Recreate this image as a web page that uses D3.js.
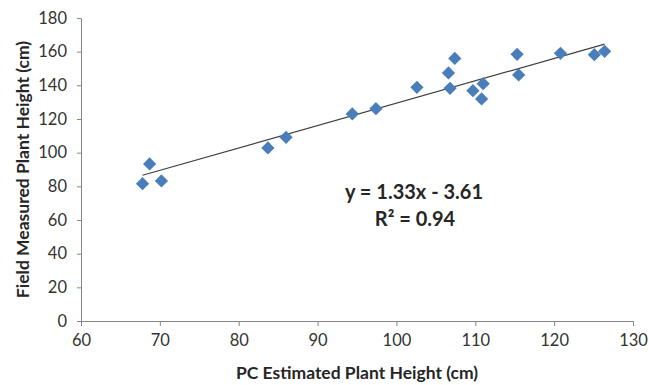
<!DOCTYPE html>
<html>
<head>
<meta charset="utf-8">
<script src="https://cdn.jsdelivr.net/npm/d3@7"></script>
<style>
  body { margin: 0; background: #fff; }
  svg { display: block; font-family: Lato, "Open Sans", sans-serif; }
  .axis path, .axis line { stroke: #868686; }
  .axis text { fill: #333; font-size: 16.5px; }
  .title { font-weight: bold; fill: #262626; font-size: 17.5px; }
  .eq { font-weight: bold; fill: #262626; font-size: 20px; }
</style>
</head>
<body>
<div id="chart"></div>
<script>
// PC estimated vs field measured plant height (cm)
const pcHeight = [67.8, 68.7, 70.2, 83.7, 86.0, 94.4, 97.4, 102.6, 106.6, 106.8,
  107.4, 109.7, 110.8, 111.0, 115.3, 115.5, 120.8, 125.1, 126.4];
const fieldHeight = [81.6, 93.3, 83.2, 102.8, 109.1, 123.0, 126.1, 138.8, 147.4, 138.2,
  156.0, 136.8, 131.9, 141.0, 158.4, 146.2, 159.0, 158.2, 160.2];
const xTicks = [60, 70, 80, 90, 100, 110, 120, 130];
const yTicks = [0, 20, 40, 60, 80, 100, 120, 140, 160, 180];
const slope = 1.33, intercept = -3.61, r2 = 0.94;

const width = 649, height = 385;
const margin = { top: 18, right: 16, bottom: 64, left: 81 };
const w = width - margin.left - margin.right,
  h = height - margin.top - margin.bottom;

const svg = d3.select("#chart").append("svg")
  .attr("width", width)
  .attr("height", height);

const g = svg.append("g")
  .attr("transform", `translate(${margin.left},${margin.top})`);

const x = d3.scaleLinear().domain([60, 130]).range([0, w]);
const y = d3.scaleLinear().domain([0, 180]).range([h, 0]);

g.append("g")
  .attr("class", "axis")
  .attr("transform", `translate(0,${h})`)
  .call(d3.axisBottom(x).tickValues(xTicks).tickSize(5).tickSizeOuter(0).tickPadding(8));

g.append("g")
  .attr("class", "axis")
  .call(d3.axisLeft(y).tickValues(yTicks).tickSize(4).tickSizeOuter(0).tickPadding(10));

g.selectAll(".axis text").attr("font-family", "Lato, sans-serif");

// trend line across data range
const xr = d3.extent(pcHeight);
g.append("path")
  .datum(xr)
  .attr("fill", "none")
  .attr("stroke", "#404040")
  .attr("stroke-width", 1.2)
  .attr("d", d3.line()
    .x(d => x(d))
    .y(d => y(slope * d + intercept)));

const points = pcHeight.map((v, i) => ({ x: v, y: fieldHeight[i] }));
const diamond = d3.symbol(d3.symbolSquare, 88);

g.selectAll(".pt")
  .data(points)
  .enter()
  .append("path")
  .attr("class", "pt")
  .attr("d", diamond)
  .attr("transform", d => `translate(${x(d.x)},${y(d.y)}) rotate(45)`)
  .attr("fill", "#4a7ebb");

// equation label
svg.append("text")
  .attr("class", "eq")
  .attr("x", 414)
  .attr("y", 199)
  .attr("text-anchor", "middle")
  .text(`y = ${slope}x - ${Math.abs(intercept)}`);

svg.append("text")
  .attr("class", "eq")
  .attr("x", 415)
  .attr("y", 226)
  .attr("text-anchor", "middle")
  .text(`R² = ${r2}`);

// axis titles
svg.append("text")
  .attr("class", "title")
  .attr("x", margin.left + w / 2)
  .attr("y", 379)
  .attr("text-anchor", "middle")
  .text("PC Estimated Plant Height (cm)");

svg.append("text")
  .attr("class", "title")
  .attr("transform", `translate(29,${margin.top + h / 2}) rotate(-90)`)
  .attr("text-anchor", "middle")
  .text("Field Measured Plant Height (cm)");
</script>
</body>
</html>
